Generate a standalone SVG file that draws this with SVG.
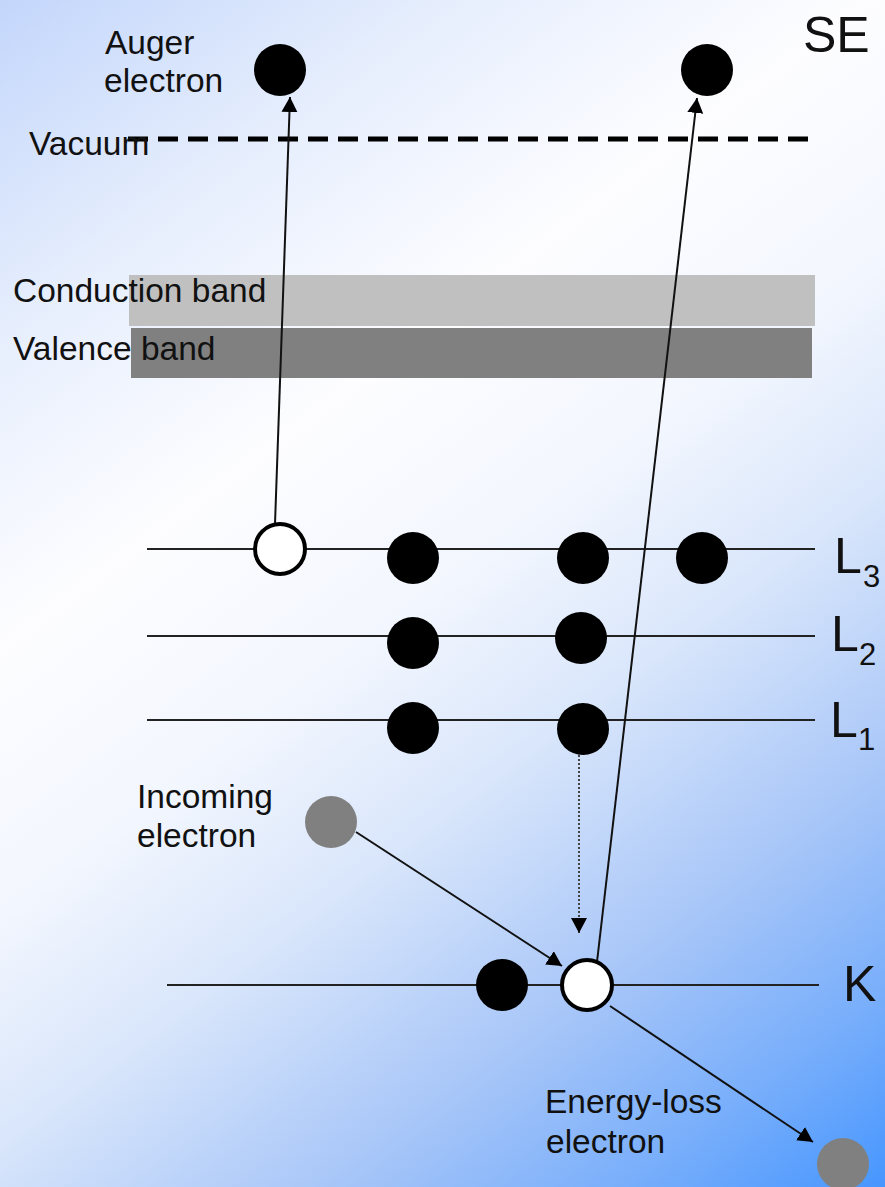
<svg xmlns="http://www.w3.org/2000/svg" width="885" height="1187" viewBox="0 0 885 1187">
<defs>
<linearGradient id="bg" gradientUnits="userSpaceOnUse" x1="0" y1="0" x2="885" y2="1187">
<stop offset="0" stop-color="#c3d6fb"/>
<stop offset="0.18" stop-color="#e6eefd"/>
<stop offset="0.35" stop-color="#fdfdff"/>
<stop offset="0.5" stop-color="#f2f6fe"/>
<stop offset="0.62" stop-color="#d9e6fb"/>
<stop offset="0.78" stop-color="#a6c5f8"/>
<stop offset="0.9" stop-color="#76adfb"/>
<stop offset="1" stop-color="#4696ff"/>
</linearGradient>
<marker id="arr" markerUnits="userSpaceOnUse" markerWidth="16" markerHeight="17" refX="15" refY="8" orient="auto">
<path d="M0,0 L15,8 L0,16 z" fill="#000"/>
</marker>
<style>
.t{font-family:"Liberation Sans",Arial,sans-serif;fill:#111;}
.s{font-size:33.5px;}
.b{font-size:50px;}
.sub{font-size:31px;}
.lvl{stroke:#222;stroke-width:2;fill:none;}
.full{fill:#000;}
.hole{fill:#fff;stroke:#000;stroke-width:4;}
.gray{fill:#808080;}
.con{stroke:#111;stroke-width:2;fill:none;marker-end:url(#arr);}
.dot{stroke:#444;stroke-width:2;stroke-dasharray:2 2;fill:none;marker-end:url(#arr);}
</style>
</defs>
<rect x="0" y="0" width="885" height="1187" fill="url(#bg)"/>

<g id="vacuum">
<line x1="128" y1="139" x2="808" y2="139" stroke="#000" stroke-width="5" stroke-dasharray="20 10"/>
<text class="t s" x="29" y="155">Vacuum</text>
</g>

<g id="conduction-band">
<rect x="129" y="275" width="686" height="51" fill="#c0c0c0"/>
<text class="t s" x="13" y="302">Conduction band</text>
</g>
<g id="valence-band">
<rect x="131" y="328" width="681" height="50" fill="#808080"/>
<text class="t s" x="13" y="360">Valence band</text>
</g>

<g id="level-L3">
<line class="lvl" x1="147" y1="549" x2="815" y2="549"/>
<text class="t b" x="834" y="573">L</text><text class="t sub" x="863" y="587">3</text>
</g>
<g id="level-L2">
<line class="lvl" x1="147" y1="636" x2="815" y2="636"/>
<text class="t b" x="831" y="651">L</text><text class="t sub" x="859" y="665">2</text>
</g>
<g id="level-L1">
<line class="lvl" x1="147" y1="720" x2="815" y2="720"/>
<text class="t b" x="830" y="737">L</text><text class="t sub" x="858" y="750">1</text>
</g>
<g id="level-K">
<line class="lvl" x1="167" y1="985" x2="819" y2="985"/>
<text class="t b" x="843" y="1001">K</text>
</g>

<g id="connectors">
<line class="con" x1="275" y1="524" x2="290" y2="97"/>
<line class="con" x1="597" y1="962" x2="697" y2="98"/>
<line class="dot" x1="579" y1="755" x2="579" y2="933"/>
<line class="con" x1="356" y1="832" x2="562" y2="966"/>
<line class="con" x1="610" y1="1006" x2="813" y2="1142"/>
</g>

<g id="auger-electron">
<circle class="full" cx="280" cy="70" r="26"/>
<text class="t s" x="105" y="54">Auger</text>
<text class="t s" x="104" y="92">electron</text>
</g>
<g id="secondary-electron">
<circle class="full" cx="707" cy="70" r="26"/>
<text class="t b" x="803" y="52">SE</text>
</g>

<g id="L3-electrons">
<circle class="hole" cx="280" cy="549" r="25"/>
<circle class="full" cx="413" cy="558" r="26"/>
<circle class="full" cx="583" cy="558" r="26"/>
<circle class="full" cx="702" cy="558" r="26"/>
</g>
<g id="L2-electrons">
<circle class="full" cx="413" cy="643" r="26"/>
<circle class="full" cx="581" cy="638" r="26"/>
</g>
<g id="L1-electrons">
<circle class="full" cx="413" cy="728" r="26"/>
<circle class="full" cx="583" cy="729" r="26"/>
</g>
<g id="K-electrons">
<circle class="full" cx="502" cy="985" r="26"/>
<circle class="hole" cx="587" cy="985" r="25"/>
</g>

<g id="incoming-electron">
<circle class="gray" cx="331" cy="822" r="26"/>
<text class="t s" x="137" y="808">Incoming</text>
<text class="t s" x="137" y="847">electron</text>
</g>
<g id="energy-loss-electron">
<circle class="gray" cx="843" cy="1164" r="26"/>
<text class="t s" x="545" y="1113">Energy-loss</text>
<text class="t s" x="546" y="1153">electron</text>
</g>
</svg>
